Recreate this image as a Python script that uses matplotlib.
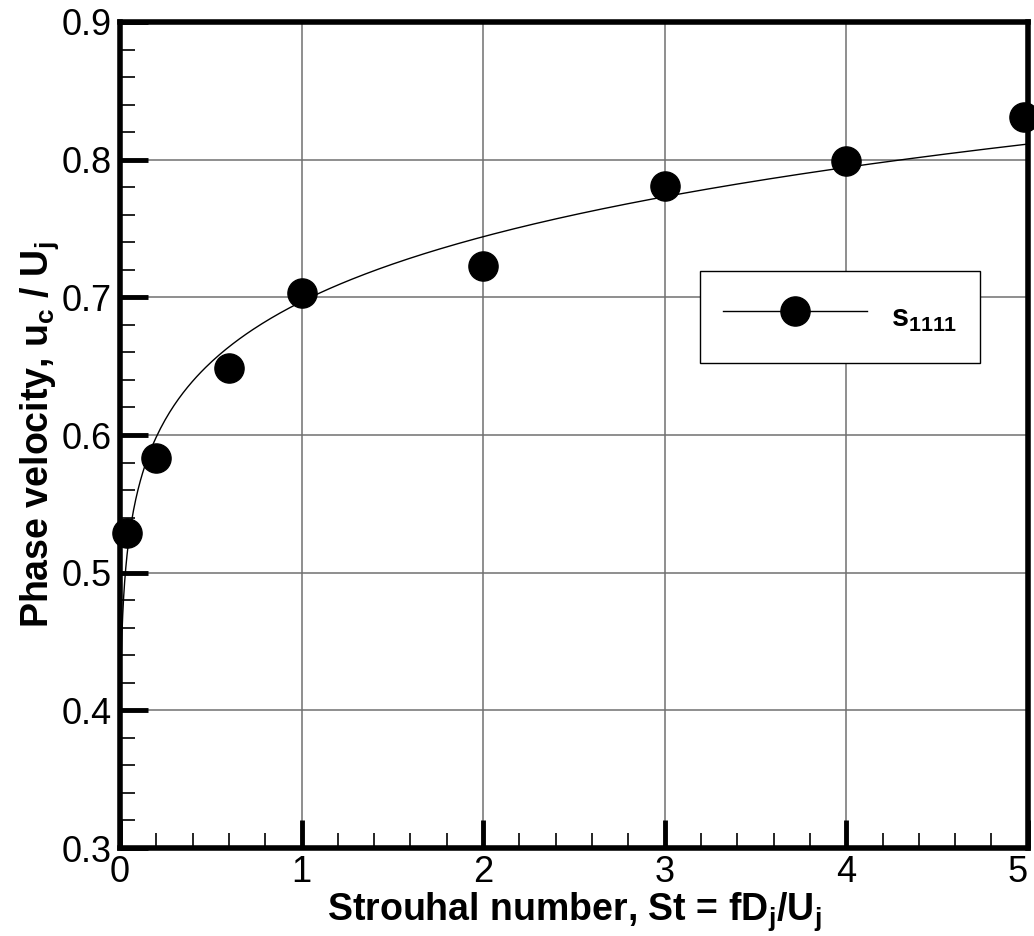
import numpy as np
import matplotlib
matplotlib.use("Agg")
import matplotlib.pyplot as plt
from matplotlib.ticker import MultipleLocator

plt.rcParams['font.family'] = ['Liberation Sans', 'DejaVu Sans']
plt.rcParams['mathtext.fontset'] = 'custom'
plt.rcParams['mathtext.rm'] = 'Liberation Sans'
plt.rcParams['mathtext.bf'] = 'Liberation Sans:bold'
plt.rcParams['mathtext.default'] = 'bf'

# measured phase velocity vs Strouhal number
strouhal = [0.04, 0.2, 0.6, 1.0, 2.0, 3.0, 4.0, 4.98]
phase_vel = [0.529, 0.583, 0.649, 0.703, 0.723, 0.781, 0.799, 0.831]

x_ticks = [0, 1, 2, 3, 4, 5]
y_ticks = [0.3, 0.4, 0.5, 0.6, 0.7, 0.8, 0.9]

# power-law fit through the points
b, loga = np.polyfit(np.log(strouhal), np.log(phase_vel), 1)
x_fit = np.concatenate([np.linspace(1e-6, 0.05, 400), np.linspace(0.05, 5, 400)])
y_fit = np.exp(loga) * x_fit ** b

fig = plt.figure(figsize=(10.34, 9.36), dpi=100)
ax = fig.add_axes([0.116, 0.094, 0.878, 0.8825])

ax.plot(x_fit, y_fit, color='black', lw=1)
ax.plot(strouhal, phase_vel, 'o', color='black', ms=21, clip_on=False, zorder=5)
# legend proxy
ax.plot([], [], '-o', color='black', lw=1, ms=21, label='s$_{1111}$')

ax.set_xlim(0, 5)
ax.set_ylim(0.3, 0.9)
ax.set_xticks(x_ticks, [str(v) for v in x_ticks])
ax.set_yticks(y_ticks, ['%.1f' % v for v in y_ticks])
ax.xaxis.set_minor_locator(MultipleLocator(0.2))
ax.yaxis.set_minor_locator(MultipleLocator(0.02))

ax.grid(True, which='major', color='#707070', lw=1.1)
ax.tick_params(which='major', direction='in', length=20, width=3.5, labelsize=26,
               top=False, right=False, pad=6)
ax.tick_params(axis='x', which='major', pad=5)
ax.tick_params(which='minor', direction='in', length=11, width=1.2,
               top=False, right=False)
for s in ax.spines.values():
    s.set_linewidth(4)

# keep the last x label inside the figure edge
ax.xaxis.get_major_ticks()[-1].label1.set_horizontalalignment('right')

ax.set_xlabel('Strouhal number, St = fD$_j$/U$_j$', fontsize=27, fontweight='bold', labelpad=0)
ax.set_ylabel('Phase velocity, u$_c$ / U$_j$', fontsize=27, fontweight='bold', labelpad=0)

leg = ax.legend(loc='upper left', bbox_to_anchor=(0.639, 0.698), fancybox=False,
                edgecolor='black', framealpha=1, fontsize=22, handlelength=4.7,
                handleheight=1.9, borderpad=0.75, handletextpad=0.8, borderaxespad=0)
leg.get_frame().set_linewidth(1)
for t in leg.get_texts():
    t.set_fontweight('bold')

fig.savefig('out.png', dpi=100)
